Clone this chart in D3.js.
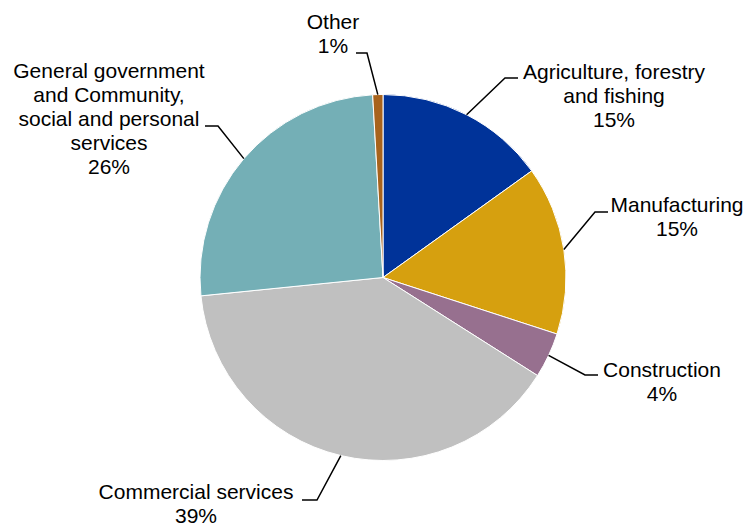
<!DOCTYPE html>
<meta charset="utf-8">
<style>
  body { margin: 0; background: #fff; }
  text { font-family: "Liberation Sans", Arial, sans-serif; font-size: 21px; fill: #000; }
</style>
<script src="https://d3js.org/d3.v7.min.js"></script>
<div id="chart"></div>
<script>
// slice data, clockwise from 12 o'clock
var sectors = ["Agriculture, forestry and fishing", "Manufacturing", "Construction",
               "Commercial services", "General government and Community, social and personal services", "Other"];
var shares = [15.1, 14.9, 4.0, 39.4, 25.7, 0.9];
var labelLines = [
  ["Agriculture, forestry", "and fishing"],
  ["Manufacturing"],
  ["Construction"],
  ["Commercial services"],
  ["General government", "and Community,", "social and personal", "services"],
  ["Other"]
];
var colors = ["#003399", "#D6A00F", "#97708F", "#C0C0C0", "#74AFB6", "#A8631C"];

// label layout: text centre x, first baseline y, elbow point, end of leader
var layout = [
  {tx: 614, ty: 79,  ex: 505, ey: 78,  lx: 518},
  {tx: 677, ty: 212, ex: 595, ey: 212, lx: 608},
  {tx: 662, ty: 377, ex: 585, ey: 375, lx: 598},
  {tx: 196, ty: 499, ex: 317, ey: 500, lx: 302},
  {tx: 109, ty: 78,  ex: 218, ey: 126, lx: 205},
  {tx: 333, ty: 29,  ex: 367, ey: 53,  lx: 356}
];

var width = 748, height = 527;
var cx = 383, cy = 277.5, r = 183;
var lineH = 24;

var svg = d3.select("#chart").append("svg")
    .attr("width", width)
    .attr("height", height);

var data = sectors.map(function(s, i){ return {name: s, value: shares[i], i: i}; });

var pie = d3.pie().value(function(d){ return d.value; }).sort(null);
var arc = d3.arc().innerRadius(0).outerRadius(r);
var edge = d3.arc().innerRadius(r).outerRadius(r);

var arcs = pie(data);
var g = svg.append("g").attr("transform", "translate(" + cx + "," + cy + ")");

g.selectAll("path")
  .data(arcs)
  .enter()
  .append("path")
    .attr("d", arc)
    .style("fill", function(d){ return colors[d.data.i]; })
    .style("stroke", "#fff")
    .style("stroke-width", 1);

// leader lines
svg.selectAll("polyline")
  .data(arcs)
  .enter()
  .append("polyline")
    .attr("points", function(d){
      var p = edge.centroid(d), L = layout[d.data.i];
      return [[cx + p[0], cy + p[1]], [L.ex, L.ey], [L.lx, L.ey]].join(" ");
    })
    .style("fill", "none")
    .style("stroke", "#000")
    .style("stroke-width", 1.5);

// labels
var pct = d3.format(".0f");
arcs.forEach(function(d){
  var L = layout[d.data.i];
  var lines = labelLines[d.data.i].concat([pct(d.data.value) + "%"]);
  var t = svg.append("text").attr("text-anchor", "middle");
  lines.forEach(function(s, k){
    t.append("tspan").attr("x", L.tx).attr("y", L.ty + k * lineH).text(s);
  });
});
</script>
